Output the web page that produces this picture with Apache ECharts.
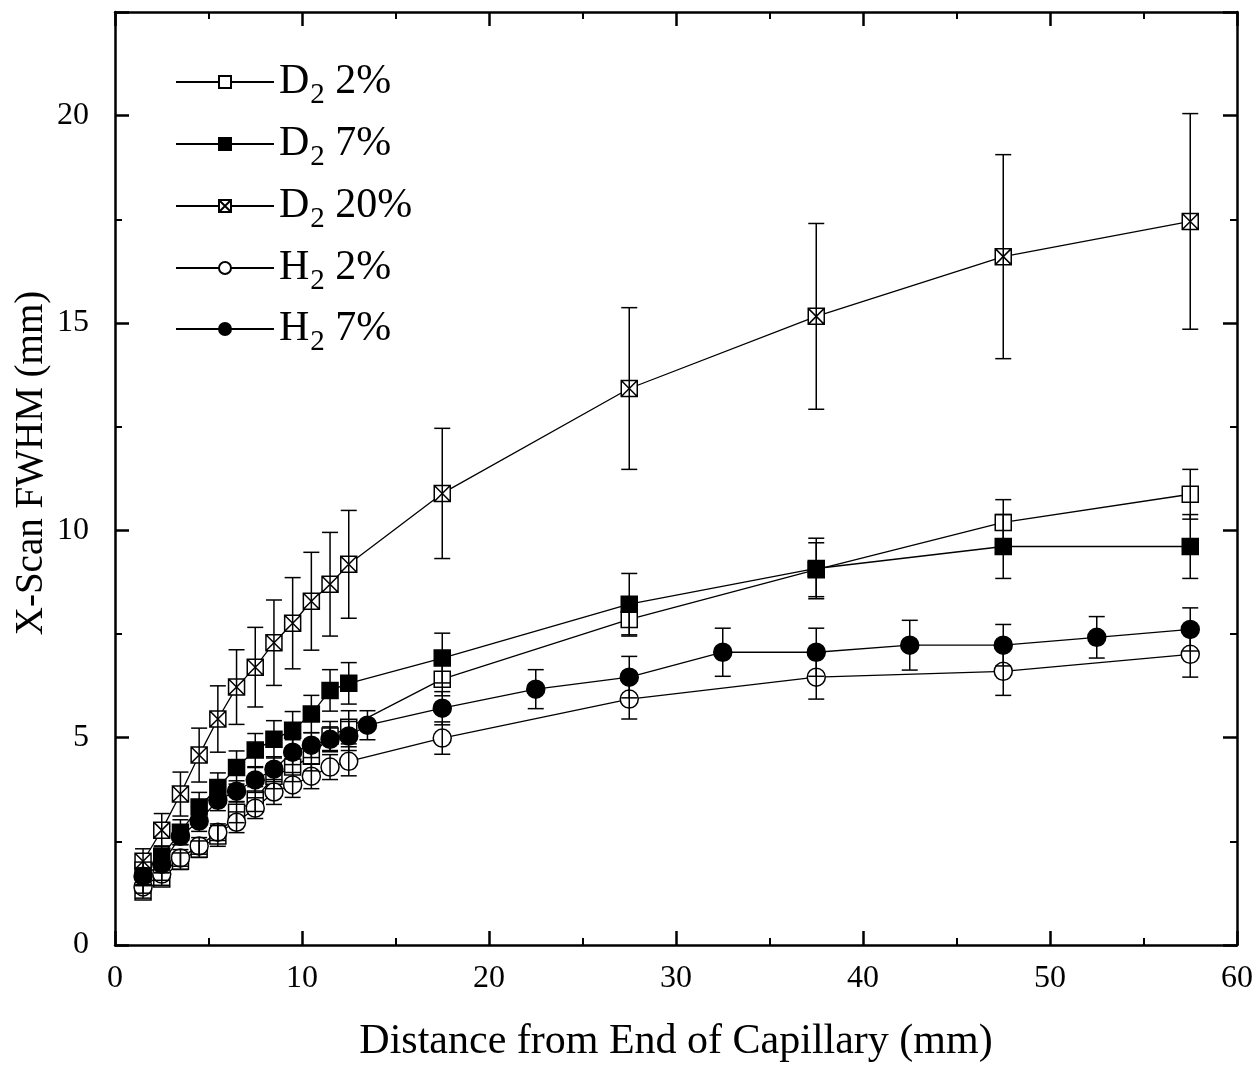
<!DOCTYPE html>
<html>
<head>
<meta charset="utf-8">
<script src="https://cdn.jsdelivr.net/npm/echarts@6/dist/echarts.min.js"></script>
<style>
html,body{margin:0;padding:0;background:#fff;}
#chart{width:1256px;height:1068px;}
</style>
</head>
<body>
<div id="chart"></div>
<script>
// ---- data ----
const xD = [1.5,2.5,3.5,4.5,5.5,6.5,7.5,8.5,9.5,10.5,11.5,12.5,17.5,27.5,37.5,47.5,57.5];
const xH7 = [1.5,2.5,3.5,4.5,5.5,6.5,7.5,8.5,9.5,10.5,11.5,12.5,13.5,17.5,22.5,27.5,32.5,37.5,42.5,47.5,52.5,57.5];

const d2_2 = [1.28,1.59,2.02,2.31,2.63,3.20,3.52,4.07,4.29,4.55,5.04,5.25,6.41,7.85,9.05,10.19,10.87];
const d2_2err = [0.15,0.15,0.2,0.2,0.25,0.25,0.3,0.3,0.35,0.35,0.35,0.4,0.4,0.4,0.65,0.55,0.6];

const d2_7 = [1.80,2.14,2.72,3.33,3.80,4.28,4.70,4.96,5.18,5.57,6.14,6.31,6.92,8.22,9.08,9.61,9.61];
const d2_7err = [0.2,0.25,0.3,0.35,0.35,0.4,0.4,0.45,0.45,0.45,0.5,0.5,0.6,0.74,0.73,0.77,0.77];

const d2_20 = [2.02,2.77,3.64,4.58,5.45,6.22,6.70,7.29,7.76,8.29,8.70,9.18,10.89,13.42,15.16,16.60,17.45];
const d2_20err = [0.3,0.4,0.53,0.65,0.8,0.9,0.96,1.03,1.1,1.18,1.25,1.3,1.57,1.95,2.24,2.46,2.6];

const h2_2 = [1.40,1.71,2.10,2.39,2.72,2.96,3.30,3.69,3.86,4.07,4.29,4.43,4.99,5.93,6.46,6.60,7.01];
const h2_2err = [0.15,0.15,0.2,0.2,0.2,0.25,0.25,0.3,0.3,0.3,0.3,0.35,0.39,0.48,0.53,0.58,0.55];

const h2_7 = [1.66,1.95,2.62,2.99,3.49,3.71,3.98,4.24,4.65,4.82,4.96,5.04,5.30,5.71,6.17,6.46,7.06,7.06,7.23,7.23,7.42,7.61];
const h2_7err = [0.2,0.2,0.2,0.25,0.25,0.25,0.3,0.3,0.3,0.3,0.3,0.35,0.35,0.4,0.47,0.5,0.58,0.58,0.6,0.5,0.5,0.52];

const seriesNames = ['D2 2%','D2 7%','D2 20%','H2 2%','H2 7%'];
const legendLabels = [['D','2',' 2%'],['D','2',' 7%'],['D','2',' 20%'],['H','2',' 2%'],['H','2',' 7%']];
const xTicks = [0,10,20,30,40,50,60];
const yTicks = [0,5,10,15,20];
const xTitle = 'Distance from End of Capillary (mm)';
const yTitle = 'X-Scan FWHM (mm)';

// ---- chart ----
const FONT = 'Liberation Serif';
const boxX = 'path://M0,0 L10,0 L10,10 L0,10 Z M0,0 L10,10 M10,0 L0,10';

function pairs(xs, ys){ return xs.map((x,i)=>[x, ys[i]]); }
function errData(xs, ys, es){ return xs.map((x,i)=>[x, ys[i]-es[i], ys[i]+es[i]]); }

function lineSeries(name, xs, ys, symbol, size, fill){
  return {
    name, type:'line', data: pairs(xs, ys), symbol, symbolSize: size,
    showAllSymbol: true, z: 3,
    lineStyle:{color:'#000', width:1.3},
    itemStyle:{color: fill, borderColor:'#000', borderWidth:1.5},
    emphasis:{disabled:true}, animation:false
  };
}
function errSeries(xs, ys, es){
  return {
    type:'custom', data: errData(xs, ys, es), z: 5, silent:true, animation:false,
    encode:{x:0, y:[1,2]},
    renderItem(params, api){
      const x = api.value(0);
      const lo = api.coord([x, api.value(1)]);
      const hi = api.coord([x, api.value(2)]);
      const w = 8;
      const st = {stroke:'#000', lineWidth:1.5};
      return {type:'group', children:[
        {type:'line', shape:{x1:lo[0],y1:lo[1],x2:hi[0],y2:hi[1]}, style:st},
        {type:'line', shape:{x1:lo[0]-w,y1:lo[1],x2:lo[0]+w,y2:lo[1]}, style:st},
        {type:'line', shape:{x1:hi[0]-w,y1:hi[1],x2:hi[0]+w,y2:hi[1]}, style:st}
      ]};
    }
  };
}

const legendTops = [56, 118, 180, 242, 303];
const legends = seriesNames.map((n,i)=>({
  data:[n], left:170, top: legendTops[i], orient:'vertical',
  itemWidth: 98, itemHeight: 15, itemGap: 10,
  selectedMode:false,
  formatter: ()=> `{n|${legendLabels[i][0]}}{s|${legendLabels[i][1]}}{n|${legendLabels[i][2]}}`,
  textStyle:{
    color:'#000', fontFamily: FONT, fontSize:42,
    rich:{
      n:{fontFamily:FONT, fontSize:42, color:'#000'},
      s:{fontFamily:FONT, fontSize:29, color:'#000', padding:[26,0,0,1]}
    }
  }
}));

const axisCommon = {
  min:0, axisLine:{show:true, onZero:false, lineStyle:{color:'#000', width:2.5}},
  axisTick:{show:true, inside:true, length:14, lineStyle:{color:'#000', width:2.5}},
  minorTick:{show:true, splitNumber:2, length:7, lineStyle:{color:'#000', width:2}},
  splitLine:{show:false}
};

const chart = echarts.init(document.getElementById('chart'), null, {renderer:'canvas'});
chart.setOption({
  animation:false,
  backgroundColor:'#fff',
  grid:{left:115, right:19, top:12, bottom:122, containLabel:false},
  legend: legends,
  graphic:[{
    type:'text', x:32, y:463, rotation:Math.PI/2,
    style:{text:yTitle, fontFamily:FONT, fontSize:39, fill:'#000', align:'center', verticalAlign:'middle'}
  }],
  xAxis:[
    Object.assign({}, axisCommon, {
      type:'value', max:60, interval:10, position:'bottom',
      name:xTitle, nameLocation:'middle', nameGap:76,
      nameTextStyle:{fontFamily:FONT, fontSize:42, color:'#000'},
      axisLabel:{fontFamily:FONT, fontSize:32, color:'#000', margin:18,
        formatter:v=> xTicks.includes(v) ? String(v) : ''}
    }),
    Object.assign({}, axisCommon, {
      type:'value', max:60, interval:10, position:'top', axisLabel:{show:false}
    })
  ],
  yAxis:[
    Object.assign({}, axisCommon, {
      type:'value', max:22.5, interval:5, position:'left',
      axisLabel:{fontFamily:FONT, fontSize:32, color:'#000', margin:26,
        formatter:v=> yTicks.includes(v) ? String(v) : ''}
    }),
    Object.assign({}, axisCommon, {
      type:'value', max:22.5, interval:5, position:'right', axisLabel:{show:false}
    })
  ],
  series:[
    lineSeries(seriesNames[0], xD, d2_2, 'rect', 16, '#fff'),
    lineSeries(seriesNames[1], xD, d2_7, 'rect', 16, '#000'),
    lineSeries(seriesNames[2], xD, d2_20, boxX, 16, '#fff'),
    lineSeries(seriesNames[3], xD, h2_2, 'circle', 18, '#fff'),
    lineSeries(seriesNames[4], xH7, h2_7, 'circle', 18, '#000'),
    errSeries(xD, d2_2, d2_2err),
    errSeries(xD, d2_7, d2_7err),
    errSeries(xD, d2_20, d2_20err),
    errSeries(xD, h2_2, h2_2err),
    errSeries(xH7, h2_7, h2_7err)
  ]
});
</script>
</body>
</html>
